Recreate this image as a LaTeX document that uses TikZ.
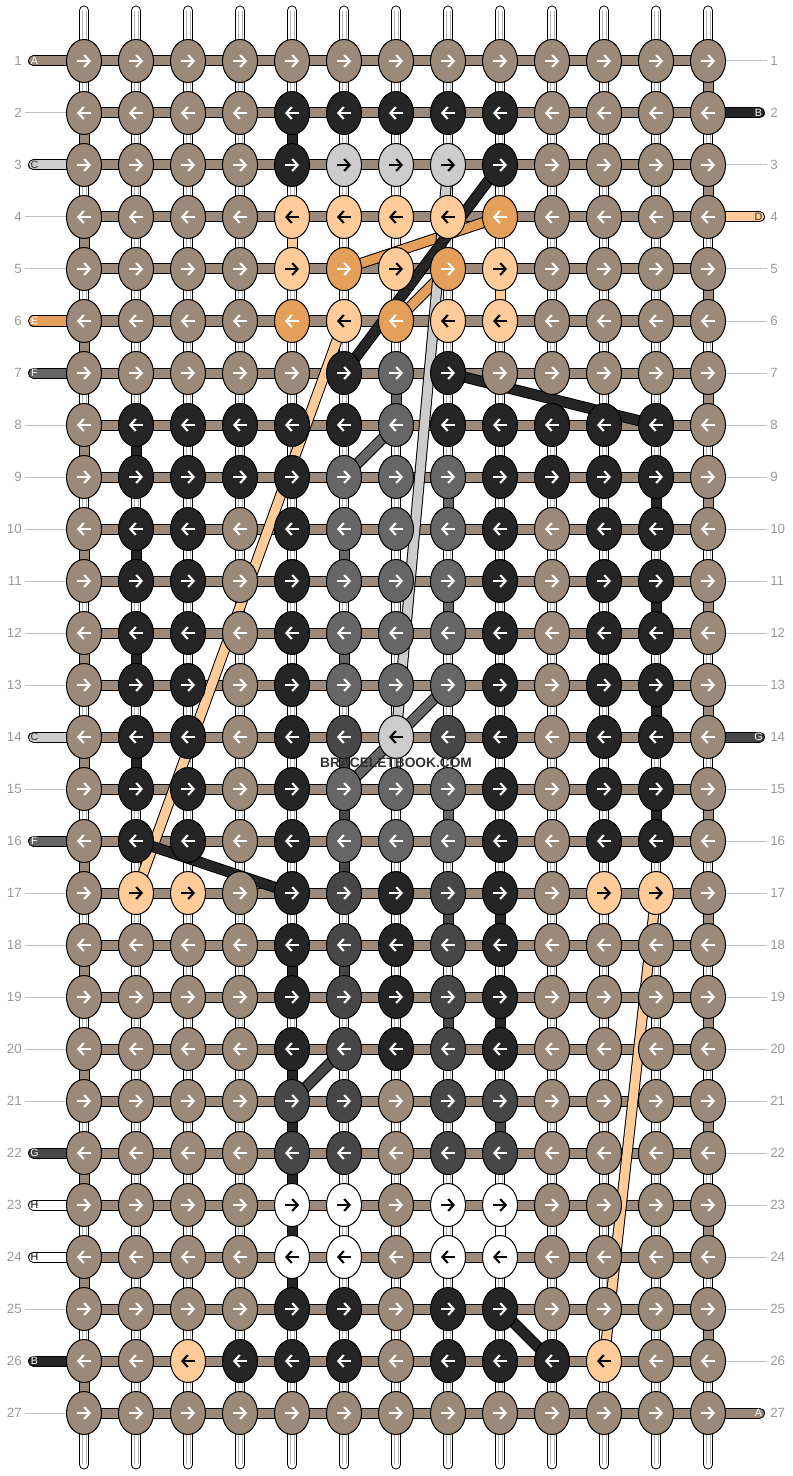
\documentclass[tikz,border=0pt]{standalone}
\usepackage{fontspec}
\setmainfont{Liberation Sans}
\usepackage{tikz}
\usetikzlibrary{positioning, shapes, arrows, arrows.meta}
\definecolor{ct}{HTML}{9B8979}
\definecolor{ck}{HTML}{252525}
\definecolor{cg}{HTML}{666666}
\definecolor{cd}{HTML}{474747}
\definecolor{cl}{HTML}{CCCCCC}
\definecolor{cp}{HTML}{FFCC99}
\definecolor{co}{HTML}{E4A05A}
\definecolor{cw}{HTML}{FFFFFF}
\colorlet{at}{white}\colorlet{ak}{white}\colorlet{ag}{white}\colorlet{ad}{white}
\colorlet{ao}{white}\colorlet{al}{black}\colorlet{ap}{black}\colorlet{aw}{black}
\pgfdeclarelayer{bg}
\pgfsetlayers{bg,main}

\begin{document}
\begin{tikzpicture}[x=0.75pt, y=-0.75pt,
  knot/.style={ellipse, draw=black, line width=0.75pt, minimum width=26.25pt,
               minimum height=32.25pt, inner sep=0pt},
  glyph/.style={line width=1.6pt, -{Straight Barb[length=4pt, width=9pt]}},
  thread/.style={draw=black, line width=0.75pt, double=#1, double distance=6.75pt},
  stub/.style={thread=#1, line cap=round},
  strand/.style={thread=white, double distance=6pt, line cap=round},
  num/.style={text=black!40, font=\fontsize{10}{12}\selectfont, inner sep=2.25pt},
  guide/.style={draw=black!25, line width=0.75pt},
  stublabel/.style={font=\fontsize{8}{9}\selectfont, inner sep=0pt}]
\useasboundingbox (0,0) rectangle (792,1476);

\foreach \cols [count=\r] in {
  {t,t,t,t,t,t,t,t,t,t,t,t,t},
  {t,t,t,t,k,k,k,k,k,t,t,t,t},
  {t,t,t,t,k,l,l,l,k,t,t,t,t},
  {t,t,t,t,p,p,p,p,o,t,t,t,t},
  {t,t,t,t,p,o,p,o,p,t,t,t,t},
  {t,t,t,t,o,p,o,p,p,t,t,t,t},
  {t,t,t,t,t,k,g,k,t,t,t,t,t},
  {t,k,k,k,k,k,g,k,k,k,k,k,t},
  {t,k,k,k,k,g,g,g,k,k,k,k,t},
  {t,k,k,t,k,g,g,g,k,t,k,k,t},
  {t,k,k,t,k,g,g,g,k,t,k,k,t},
  {t,k,k,t,k,g,g,g,k,t,k,k,t},
  {t,k,k,t,k,g,g,g,k,t,k,k,t},
  {t,k,k,t,k,d,l,d,k,t,k,k,t},
  {t,k,k,t,k,g,g,g,k,t,k,k,t},
  {t,k,k,t,k,g,g,g,k,t,k,k,t},
  {t,p,p,t,k,d,k,d,k,t,p,p,t},
  {t,t,t,t,k,d,k,d,k,t,t,t,t},
  {t,t,t,t,k,d,k,d,k,t,t,t,t},
  {t,t,t,t,k,d,k,d,k,t,t,t,t},
  {t,t,t,t,d,d,t,d,d,t,t,t,t},
  {t,t,t,t,d,d,t,d,d,t,t,t,t},
  {t,t,t,t,w,w,t,w,w,t,t,t,t},
  {t,t,t,t,w,w,t,w,w,t,t,t,t},
  {t,t,t,t,k,k,t,k,k,t,t,t,t},
  {t,t,p,k,k,k,t,k,k,k,p,t,t},
  {t,t,t,t,t,t,t,t,t,t,t,t,t}}{
  \pgfmathsetmacro\y{61+52*(\r-1)}
  \pgfmathsetmacro\dir{mod(\r,2)==1 ? 1 : -1}
  \foreach \k [count=\c] in \cols {
    \pgfmathsetmacro\x{84+52*(\c-1)}
    \node[knot, fill=c\k] (n-\r-\c) at (\x,\y) {};
    \draw[glyph, draw=a\k] ({\x-7*\dir},\y) -- ({\x+7*\dir},\y);
  }
  \node[num, anchor=east] (ln-\r) at (25,\y) {\r};
  \node[num, anchor=west] (rn-\r) at (767,\y) {\r};
}

\begin{pgfonlayer}{bg}
\foreach \c in {1,...,13}{
  \pgfmathsetmacro\x{84+52*(\c-1)}
  \draw[strand] (\x,10.5) -- (\x,1464.5);
  \draw[black!30, line width=0.4pt] (\x-1.8,11) -- (\x-1.8,1464) (\x+1.8,11) -- (\x+1.8,1464);
}
\foreach \r in {1,...,27}
  \draw[thread=ct] (n-\r-1.center) -- (n-\r-13.center);
\foreach \r [evaluate=\r as \s using int(\r+1)] in {1,3,...,25}
  \draw[thread=ct] (n-\r-13.center) -- (n-\s-13.center);
\foreach \r [evaluate=\r as \s using int(\r+1)] in {2,4,...,26}
  \draw[thread=ct] (n-\r-1.center) -- (n-\s-1.center);
\foreach \k/\a/\b in {o/4-9/5-6, o/5-8/6-7,
  p/4-5/5-5, p/5-9/6-9, p/6-6/17-2, p/17-12/26-11,
  l/3-8/14-7,
  g/7-7/8-7, g/8-7/9-6, g/9-8/10-8, g/10-6/11-6, g/11-8/12-8, g/12-6/13-6,
  g/13-8/15-6, g/15-8/16-8,
  d/14-6/17-6, d/17-8/18-8, d/18-6/19-6, d/19-8/20-8, d/20-6/21-5, d/21-9/22-9,
  w/23-9/24-9,
  k/2-5/3-5, k/3-9/7-6, k/7-8/8-12, k/8-2/9-2, k/9-12/10-12, k/10-2/11-2,
  k/11-12/12-12, k/12-2/13-2, k/13-12/14-12, k/14-2/15-2, k/15-12/16-12,
  k/16-2/17-5, k/17-9/18-9, k/18-5/19-5, k/19-9/20-9, k/20-5/25-5, k/25-9/26-10}
  \draw[thread=c\k] (n-\a.center) -- (n-\b.center);
\end{pgfonlayer}

\foreach \r/\k/\lab/\tc in {1/t/A/white, 3/l/C/black!80, 6/o/E/white, 7/g/F/white,
  14/l/C/black!80, 16/g/F/white, 22/d/G/white, 23/w/H/black, 24/w/H/black, 26/k/B/white}{
  \pgfmathsetmacro\y{61+52*(\r-1)}
  \coordinate (sl-\r) at (33.5,\y);
  \begin{pgfonlayer}{bg}
  \draw[stub=c\k] (sl-\r) -- (n-\r-1.center);
  \end{pgfonlayer}
  \node[stublabel, text=\tc] at (34.5,\y) {\lab};
}
\foreach \r/\k/\lab/\tc in {2/k/B/white, 4/p/D/black!80, 14/d/G/white, 27/t/A/white}{
  \pgfmathsetmacro\y{61+52*(\r-1)}
  \coordinate (sr-\r) at (759.5,\y);
  \begin{pgfonlayer}{bg}
  \draw[stub=c\k] (n-\r-13.center) -- (sr-\r);
  \end{pgfonlayer}
  \node[stublabel, text=\tc] at (758.5,\y) {\lab};
}
\foreach \r in {2,4,5,8,9,10,11,12,13,15,17,18,19,20,21,25,27}
  \draw[guide] (ln-\r) -- (n-\r-1);
\foreach \r in {1,3,5,6,7,8,9,10,11,12,13,15,16,17,18,19,20,21,22,23,24,25,26}
  \draw[guide] (n-\r-13) -- (rn-\r);

\node[font=\bfseries\fontsize{10.3}{12}\selectfont, text=black!80] (wm) at (396,763) {BRACELETBOOK.COM};
\end{tikzpicture}
\end{document}
